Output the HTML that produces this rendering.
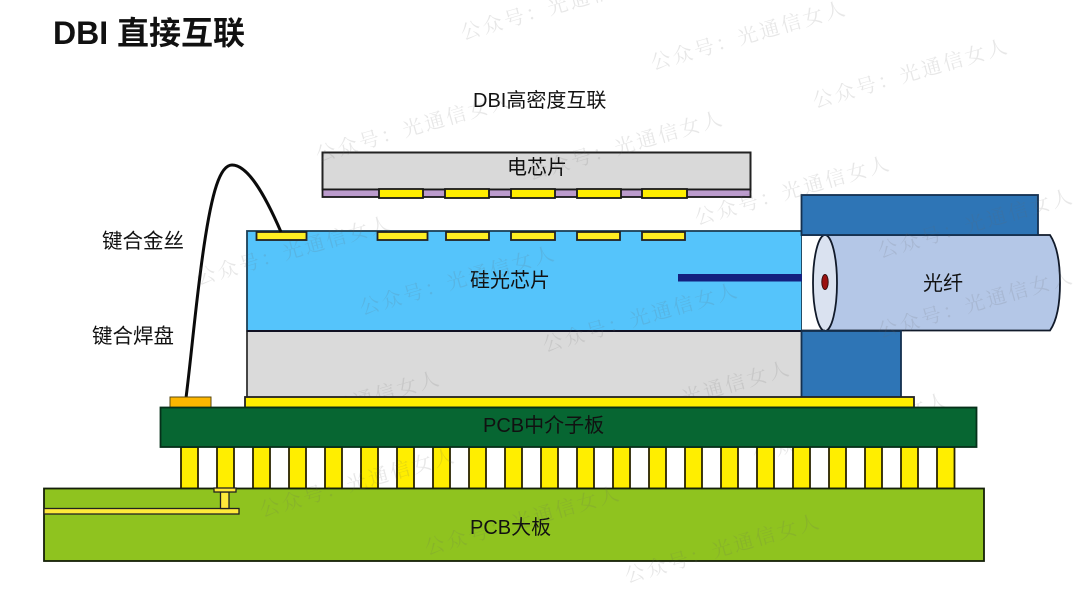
<!DOCTYPE html>
<html><head><meta charset="utf-8"><style>
html,body{margin:0;padding:0;background:#fff}
svg{display:block}
text{font-family:"Liberation Sans","Noto Sans CJK SC",sans-serif;font-size:20px;fill:#111}
.wm text{font-family:"Noto Serif CJK SC",serif;font-size:20px;letter-spacing:2.600px;fill:#666;opacity:.15}
</style></head><body>
<svg width="1080" height="607" viewBox="0 0 1080 607" xmlns="http://www.w3.org/2000/svg">
<rect width="1080" height="607" fill="#fff"/>
<text x="53" y="44" style="font-size:32px;font-weight:bold">DBI 直接互联</text>
<text x="473" y="107">DBI高密度互联</text>
<text x="102" y="248" style="font-size:20.500px">键合金丝</text>
<text x="92" y="343" style="font-size:20.500px">键合焊盘</text>

<g stroke="#1a1a1a" stroke-width="1.800">
<!-- top chip -->
<rect x="322.500" y="152.500" width="428" height="37" fill="#d9d9d9" stroke="#222" stroke-width="2"/>
<rect x="322.500" y="189.500" width="428" height="7.500" fill="#bb9bcc"/>
<g fill="#ffee00">
<rect x="379" y="189" width="44" height="9"/><rect x="445" y="189" width="44" height="9"/><rect x="511" y="189" width="44" height="9"/><rect x="577" y="189" width="44" height="9"/><rect x="642" y="189" width="45" height="9"/>
</g>
<!-- silicon photonic chip -->
<rect x="247" y="231" width="555" height="100" fill="#55c4fb" stroke="#1c3f55"/>
<rect x="247" y="331" width="555" height="67" fill="#dadada" stroke="#333"/>
<line x1="247" y1="331" x2="802" y2="331" stroke="#112" stroke-width="2"/>
<g fill="#ffee22" stroke="#222">
<rect x="256.500" y="232" width="50" height="8"/><rect x="377.500" y="232" width="50" height="8"/><rect x="446" y="232" width="43" height="8"/><rect x="511" y="232" width="44" height="8"/><rect x="577" y="232" width="43" height="8"/><rect x="642" y="232" width="43" height="8"/>
</g>
<rect x="678" y="274" width="124" height="7.500" fill="#14207f" stroke="none"/>
</g>

<!-- wire -->
<path d="M186 398 C192 350 196 300 204 246 C212 192 220 165 232 165 C248 165 265 195 281 232" fill="none" stroke="#0b0b0b" stroke-width="3"/>

<!-- fibre -->
<path d="M825 235 H1050 Q1060 250 1060 283 Q1060 316 1050 330.500 H825 Z" fill="#b4c7e7" stroke="#111a2a" stroke-width="1.800"/>
<rect x="802" y="236" width="12" height="94" fill="#fff"/>
<ellipse cx="825" cy="283" rx="12" ry="48" fill="#dae2f0" stroke="#111a2a" stroke-width="1.800"/>
<ellipse cx="825" cy="282" rx="3.200" ry="7.500" fill="#9b1010" stroke="#3a1010"/>
<line x1="802" y1="235" x2="825" y2="235" stroke="#111a2a" stroke-width="1.800"/>
<line x1="802" y1="330.500" x2="825" y2="330.500" stroke="#111a2a" stroke-width="1.800"/>
<!-- holders -->
<rect x="801.500" y="195" width="236.500" height="40" fill="#2e75b6" stroke="#14304f" stroke-width="1.800"/>
<rect x="801.500" y="331" width="99.500" height="66.500" fill="#2e75b6" stroke="#14304f" stroke-width="1.800"/>

<text x="507" y="174">电芯片</text>
<text x="470" y="287">硅光芯片</text>
<text x="923" y="290">光纤</text>

<!-- watermarks beneath the board stack -->
<g class="wm">
<text transform="translate(463,40) rotate(-16)">公众号：光通信女人</text>
<text transform="translate(653,70) rotate(-16)">公众号：光通信女人</text>
<text transform="translate(815,108) rotate(-16)">公众号：光通信女人</text>
<text transform="translate(318,162) rotate(-16)">公众号：光通信女人</text>
<text transform="translate(530,180) rotate(-16)">公众号：光通信女人</text>
<text transform="translate(697,225) rotate(-16)">公众号：光通信女人</text>
<text transform="translate(880,258) rotate(-16)">公众号：光通信女人</text>
<text transform="translate(198,285) rotate(-16)">公众号：光通信女人</text>
<text transform="translate(362,315) rotate(-16)">公众号：光通信女人</text>
<text transform="translate(545,352) rotate(-16)">公众号：光通信女人</text>
<text transform="translate(880,338) rotate(-16)">公众号：光通信女人</text>
<text transform="translate(247,440) rotate(-16)">公众号：光通信女人</text>
<text transform="translate(597,430) rotate(-16)">公众号：光通信女人</text>
<text transform="translate(755,462) rotate(-16)">公众号：光通信女人</text>
</g>

<!-- pads on interposer -->
<rect x="170" y="397" width="41" height="10.500" fill="#fdb600" stroke="#5a4a10"/>
<rect x="245" y="397" width="669" height="10.500" fill="#ffee00" stroke="#222" stroke-width="1.800"/>
<!-- pillars -->
<g fill="#ffee00" stroke="#2a2400" stroke-width="1.800">
<rect x="181" y="447" width="17" height="41.500"/><rect x="217" y="447" width="17" height="41.500"/><rect x="253" y="447" width="17" height="41.500"/><rect x="289" y="447" width="17" height="41.500"/><rect x="325" y="447" width="17" height="41.500"/><rect x="361" y="447" width="17" height="41.500"/><rect x="397" y="447" width="17" height="41.500"/><rect x="433" y="447" width="17" height="41.500"/><rect x="469" y="447" width="17" height="41.500"/><rect x="505" y="447" width="17" height="41.500"/><rect x="541" y="447" width="17" height="41.500"/><rect x="577" y="447" width="17" height="41.500"/><rect x="613" y="447" width="17" height="41.500"/><rect x="649" y="447" width="17" height="41.500"/><rect x="685" y="447" width="17" height="41.500"/><rect x="721" y="447" width="17" height="41.500"/><rect x="757" y="447" width="17" height="41.500"/><rect x="793" y="447" width="17" height="41.500"/><rect x="829" y="447" width="17" height="41.500"/><rect x="865" y="447" width="17" height="41.500"/><rect x="901" y="447" width="17" height="41.500"/><rect x="937" y="447" width="17.500" height="41.500"/>
</g>
<!-- interposer -->
<rect x="160.500" y="407.500" width="816" height="39.500" fill="#076632" stroke="#06301a" stroke-width="1.800"/>
<!-- PCB board -->
<rect x="44" y="488.500" width="940" height="72.500" fill="#8fc31f" stroke="#152008" stroke-width="1.800"/>
<rect x="44" y="508.500" width="195" height="5.500" fill="#ffe93a" stroke="#222" stroke-width="1.300"/>
<rect x="220.500" y="492" width="8.500" height="16.500" fill="#ffe93a" stroke="#222" stroke-width="1.300"/>
<rect x="214" y="488" width="22" height="4" fill="#ffe93a" stroke="#222" stroke-width="1.300"/>

<text x="483" y="432">PCB中介子板</text>
<text x="470" y="534">PCB大板</text>

<g class="wm">
<text transform="translate(262,517) rotate(-16)">公众号：光通信女人</text>
<text transform="translate(427,555) rotate(-16)">公众号：光通信女人</text>
<text transform="translate(627,583) rotate(-16)">公众号：光通信女人</text>
</g>
</svg>
</body></html>
